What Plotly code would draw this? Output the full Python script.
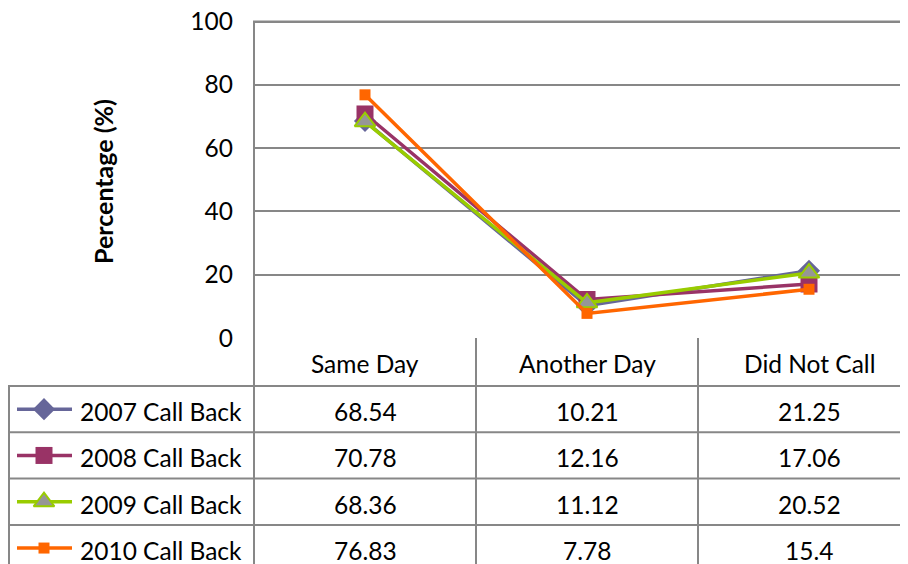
import plotly.graph_objects as go

categories = ["Same Day", "Another Day", "Did Not Call"]
series_names = ["2007 Call Back", "2008 Call Back", "2009 Call Back", "2010 Call Back"]
v2007 = [68.54, 10.21, 21.25]
v2008 = [70.78, 12.16, 17.06]
v2009 = [68.36, 11.12, 20.52]
v2010 = [76.83, 7.78, 15.4]
table_labels = [["68.54", "10.21", "21.25"], ["70.78", "12.16", "17.06"],
                ["68.36", "11.12", "20.52"], ["76.83", "7.78", "15.4"]]
y_ticks = [0, 20, 40, 60, 80, 100]

W, H = 908, 564
OFF = 8  # page body margin
FONT = "Lato"
FS = 24.5
GRID = "#878787"

styles = [
    dict(line=dict(color="#666699", width=3.5), marker=dict(symbol="diamond", size=17, color="#666699")),
    dict(line=dict(color="#993366", width=3.5), marker=dict(symbol="square", size=17, color="#993366")),
    dict(line=dict(color="#99CC00", width=3.5), marker=dict(symbol="triangle-up", size=18, color="#969696",
                                                            line=dict(color="#99CC00", width=2))),
    dict(line=dict(color="#FF6600", width=3.5), marker=dict(symbol="square", size=11, color="#FF6600")),
]
values = [v2007, v2008, v2009, v2010]

# reference (page) pixel geometry
plot_l, plot_t, plot_b = 254, 21.5, 338
col_w = 222
header_top, header_bot = 338, 386
row_h = 46.3
row_tops = [header_bot + i * row_h for i in range(4)]
col_lines = [plot_l + col_w, plot_l + 2 * col_w]
col_centers = [plot_l + col_w * (i + 0.5) for i in range(3)]

xs = lambda px: (px - OFF) / W
ys = lambda py: 1 - (py - OFF) / H

px_per_unit = (plot_b - plot_t) / 100.0
y_top = 102
plot_t_ext = plot_b - y_top * px_per_unit

fig = go.Figure()
for name, vals, st in zip(series_names, values, styles):
    fig.add_trace(go.Scatter(x=[0, 1, 2], y=vals, name=name, mode="lines+markers",
                             line=st["line"], marker=st["marker"], showlegend=False,
                             xaxis="x", yaxis="y", cliponaxis=False))

# legend keys inside the data table (pixel overlay axis, page coords)
for i, st in enumerate(styles):
    cy = row_tops[i] + row_h / 2
    fig.add_trace(go.Scatter(x=[17, 44, 72], y=[cy, cy, cy], mode="lines",
                             line=st["line"], showlegend=False, xaxis="x2", yaxis="y2",
                             hoverinfo="skip"))
    fig.add_trace(go.Scatter(x=[44], y=[cy], mode="markers", marker=st["marker"],
                             showlegend=False, xaxis="x2", yaxis="y2", hoverinfo="skip"))

shapes = []
def line(x0, y0, x1, y1, layer="below"):
    shapes.append(dict(type="line", xref="paper", yref="paper",
                       x0=xs(x0), y0=ys(y0), x1=xs(x1), y1=ys(y1),
                       line=dict(color=GRID, width=2), layer=layer))

# plot-area top border (at axis maximum 100) and left border
line(plot_l - 1, plot_t, W + 20, plot_t, layer="above")
line(plot_l, plot_t, plot_l, H + 20)
line(8, header_bot, W + 20, header_bot)
line(9, header_bot, 9, H + 20)
for cx in col_lines:
    line(cx, header_top, cx, H + 20)
for rt in row_tops[1:]:
    line(8, rt, W + 20, rt)

annotations = []
def txt(px, py, s, xanchor="center", angle=0, size=FS):
    annotations.append(dict(x=xs(px), y=ys(py), xref="paper", yref="paper", text=s,
                            xanchor=xanchor, yanchor="middle", textangle=angle, showarrow=False,
                            font=dict(family=FONT, size=size, color="black")))

for j, c in enumerate(categories):
    txt(col_centers[j], (header_top + header_bot) / 2 + 1, c)
for i, name in enumerate(series_names):
    cy = row_tops[i] + row_h / 2 + 2.5
    txt(78, cy, name, xanchor="left")
    for j in range(3):
        txt(col_centers[j], cy, table_labels[i][j])
txt(103, 182, "<b>Percentage (%)</b>", angle=-90, size=25)

x_right = -0.5 + (W + OFF - plot_l) / col_w
fig.update_layout(
    width=W, height=H, margin=dict(l=0, r=0, t=0, b=0, autoexpand=False),
    paper_bgcolor="white", plot_bgcolor="rgba(0,0,0,0)",
    font=dict(family=FONT, size=FS, color="black"),
    xaxis=dict(domain=[xs(plot_l), 1], range=[-0.5, x_right], showgrid=False, zeroline=False,
               showticklabels=False, showline=False, fixedrange=True, anchor="y", automargin=False),
    yaxis=dict(domain=[ys(plot_b), ys(plot_t_ext)], range=[0, y_top], tickvals=y_ticks, anchor="x",
               showgrid=True, gridcolor=GRID, gridwidth=2, zeroline=False, showline=False,
               ticks="", ticklabelstandoff=20, ticklabeloverflow="allow", automargin=False,
               fixedrange=True, tickfont=dict(family=FONT, size=FS, color="black")),
    xaxis2=dict(domain=[0, 1], range=[OFF, W + OFF], visible=False, fixedrange=True, anchor="y2", automargin=False),
    yaxis2=dict(domain=[0, 1], range=[H + OFF, OFF], visible=False, anchor="x2", fixedrange=True, automargin=False),
    shapes=shapes, annotations=annotations,
)
fig.write_html("out.html")
